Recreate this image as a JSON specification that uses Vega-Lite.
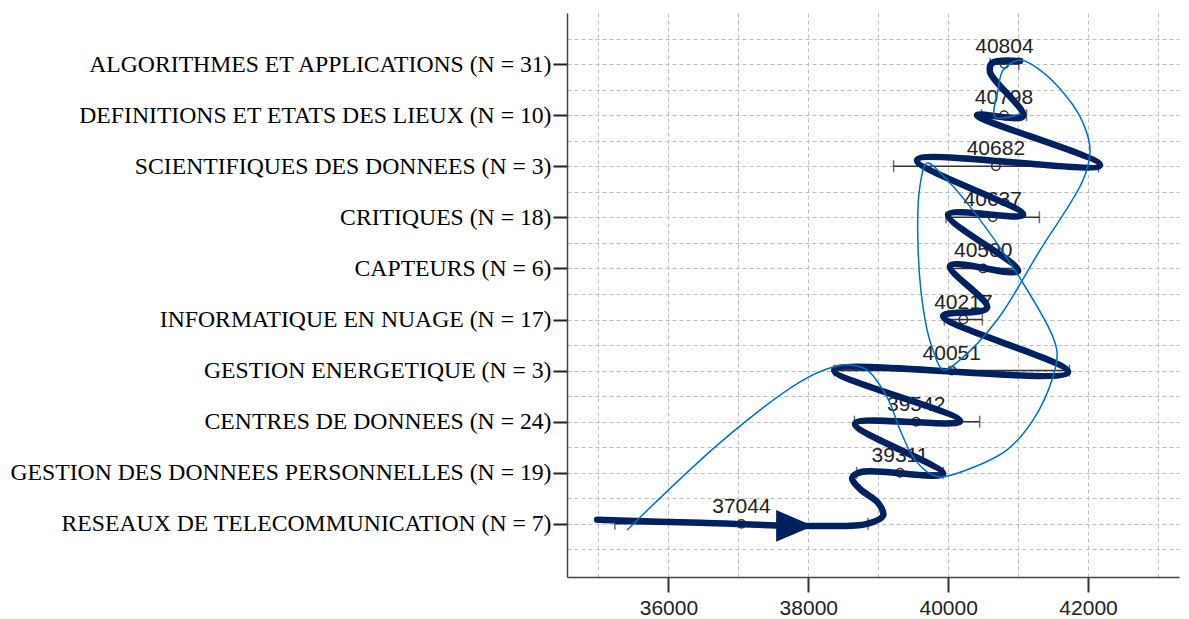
{
  "$schema": "https://vega.github.io/schema/vega-lite/v6.json",
  "width": 612,
  "height": 564,
  "autosize": {"type": "none"},
  "padding": {"left": 567, "top": 13, "right": 10, "bottom": 42},
  "background": "white",
  "config": {"view": {"stroke": null}},
  "datasets": {
    "stats": [
      {"cat": "ALGORITHMES ET APPLICATIONS (N = 31)", "pos": 1, "mean": 40804, "lo": 40599, "hi": 41009},
      {"cat": "DEFINITIONS ET ETATS DES LIEUX (N = 10)", "pos": 2, "mean": 40798, "lo": 40476, "hi": 41120},
      {"cat": "SCIENTIFIQUES DES DONNEES (N = 3)", "pos": 3, "mean": 40682, "lo": 39220, "hi": 42150},
      {"cat": "CRITIQUES (N = 18)", "pos": 4, "mean": 40637, "lo": 39970, "hi": 41304},
      {"cat": "CAPTEURS (N = 6)", "pos": 5, "mean": 40500, "lo": 40050, "hi": 40950},
      {"cat": "INFORMATIQUE EN NUAGE (N = 17)", "pos": 6, "mean": 40217, "lo": 39945, "hi": 40489},
      {"cat": "GESTION ENERGETIQUE (N = 3)", "pos": 7, "mean": 40051, "lo": 38369, "hi": 41733},
      {"cat": "CENTRES DE DONNEES (N = 24)", "pos": 8, "mean": 39542, "lo": 38660, "hi": 40450},
      {"cat": "GESTION DES DONNEES PERSONNELLES (N = 19)", "pos": 9, "mean": 39311, "lo": 38691, "hi": 39931},
      {"cat": "RESEAUX DE TELECOMMUNICATION (N = 7)", "pos": 10, "mean": 37044, "lo": 35234, "hi": 38854}
    ],
    "thick": [
      {"i": 1, "x": 34981, "pos": 9.92},
      {"i": 2, "x": 36454, "pos": 9.98},
      {"i": 3, "x": 38069, "pos": 10.04},
      {"i": 4, "x": 38841, "pos": 10.0},
      {"i": 5, "x": 39069, "pos": 9.84},
      {"i": 6, "x": 38998, "pos": 9.59},
      {"i": 7, "x": 38741, "pos": 9.32},
      {"i": 8, "x": 38626, "pos": 9.1},
      {"i": 9, "x": 38769, "pos": 8.98},
      {"i": 10, "x": 39927, "pos": 9.02},
      {"i": 11, "x": 38669, "pos": 8.04},
      {"i": 12, "x": 40170, "pos": 7.99},
      {"i": 13, "x": 38369, "pos": 6.99},
      {"i": 14, "x": 41714, "pos": 7.03},
      {"i": 15, "x": 39927, "pos": 5.93},
      {"i": 16, "x": 40556, "pos": 5.77},
      {"i": 17, "x": 40027, "pos": 4.95},
      {"i": 18, "x": 40999, "pos": 5.05},
      {"i": 19, "x": 39999, "pos": 3.95},
      {"i": 20, "x": 41071, "pos": 3.95},
      {"i": 21, "x": 39555, "pos": 2.88},
      {"i": 22, "x": 42171, "pos": 2.98},
      {"i": 23, "x": 40413, "pos": 2.0},
      {"i": 24, "x": 41071, "pos": 2.02},
      {"i": 25, "x": 40599, "pos": 1.16},
      {"i": 26, "x": 40628, "pos": 0.98},
      {"i": 27, "x": 41028, "pos": 0.94}
    ],
    "thin": [
      {"i": 1, "x": 35410, "pos": 10.12},
      {"i": 2, "x": 36782, "pos": 8.36},
      {"i": 3, "x": 37883, "pos": 7.22},
      {"i": 4, "x": 38355, "pos": 6.93},
      {"i": 5, "x": 38598, "pos": 6.89},
      {"i": 6, "x": 38841, "pos": 6.99},
      {"i": 7, "x": 39127, "pos": 7.52},
      {"i": 8, "x": 39312, "pos": 8.16},
      {"i": 9, "x": 39498, "pos": 8.69},
      {"i": 10, "x": 39698, "pos": 8.98},
      {"i": 11, "x": 39884, "pos": 9.08},
      {"i": 12, "x": 40270, "pos": 8.94},
      {"i": 13, "x": 40842, "pos": 8.55},
      {"i": 14, "x": 41213, "pos": 7.97},
      {"i": 15, "x": 41499, "pos": 7.12},
      {"i": 16, "x": 41557, "pos": 6.65},
      {"i": 17, "x": 41485, "pos": 6.3},
      {"i": 18, "x": 41071, "pos": 5.29},
      {"i": 19, "x": 40456, "pos": 4.05},
      {"i": 20, "x": 39984, "pos": 3.27},
      {"i": 21, "x": 39698, "pos": 2.94},
      {"i": 22, "x": 39598, "pos": 3.37},
      {"i": 23, "x": 39570, "pos": 4.64},
      {"i": 24, "x": 39670, "pos": 6.01},
      {"i": 25, "x": 39784, "pos": 6.6},
      {"i": 26, "x": 39927, "pos": 6.99},
      {"i": 27, "x": 40170, "pos": 6.79},
      {"i": 28, "x": 40699, "pos": 6.01},
      {"i": 29, "x": 41314, "pos": 4.64},
      {"i": 30, "x": 41928, "pos": 3.27},
      {"i": 31, "x": 42028, "pos": 2.68},
      {"i": 32, "x": 41928, "pos": 2.15},
      {"i": 33, "x": 41700, "pos": 1.65},
      {"i": 34, "x": 41314, "pos": 1.12},
      {"i": 35, "x": 41028, "pos": 0.92},
      {"i": 36, "x": 40785, "pos": 1.12},
      {"i": 37, "x": 40713, "pos": 1.51},
      {"i": 38, "x": 40670, "pos": 2.04},
      {"i": 39, "x": 41028, "pos": 1.98}
    ],
    "arrow": [
      {"x": 37804, "pos": 10.04}
    ]
  },
  "layer": [
    {
      "data": {"name": "stats"},
      "mark": {"type": "rule", "stroke": "#333333", "strokeWidth": 1.5},
      "encoding": {
        "x": {
          "field": "lo", "type": "quantitative", "title": null,
          "scale": {"domain": [34550, 43300], "nice": false, "zero": false},
          "axis": {
            "values": [35000, 36000, 37000, 38000, 39000, 40000, 41000, 42000, 43000],
            "tickCount": 40,
            "labelExpr": "datum.value % 2000 === 0 ? '' + datum.value : ''",
            "tickOpacity": {"condition": {"test": "datum.value % 2000 === 0", "value": 1}, "value": 0},
            "labelFont": "Liberation Sans",
            "labelFontSize": 21,
            "labelColor": "#222222",
            "labelPadding": 5,
            "labelFlush": false,
            "labelOverlap": false,
            "tickSize": 15,
            "tickWidth": 2,
            "tickColor": "#333333",
            "domainColor": "#444444",
            "domainWidth": 1.5,
            "grid": true,
            "gridColor": "#bdbdbd",
            "gridDash": [4, 3],
            "gridWidth": 1
          }
        },
        "x2": {"field": "hi"},
        "y": {
          "field": "pos", "type": "quantitative", "title": null,
          "scale": {"domain": [0, 11.04], "nice": false, "zero": false, "reverse": true},
          "axis": {
            "values": [0.5, 1, 1.5, 2, 2.5, 3, 3.5, 4, 4.5, 5, 5.5, 6, 6.5, 7, 7.5, 8, 8.5, 9, 9.5, 10, 10.5],
            "tickCount": 60,
            "labelExpr": "datum.value % 1 === 0 ? ['', 'ALGORITHMES ET APPLICATIONS (N = 31)', 'DEFINITIONS ET ETATS DES LIEUX (N = 10)', 'SCIENTIFIQUES DES DONNEES (N = 3)', 'CRITIQUES (N = 18)', 'CAPTEURS (N = 6)', 'INFORMATIQUE EN NUAGE (N = 17)', 'GESTION ENERGETIQUE (N = 3)', 'CENTRES DE DONNEES (N = 24)', 'GESTION DES DONNEES PERSONNELLES (N = 19)', 'RESEAUX DE TELECOMMUNICATION (N = 7)'][datum.value] : ''",
            "tickOpacity": {"condition": {"test": "datum.value % 1 === 0", "value": 1}, "value": 0},
            "labelFont": "Liberation Serif",
            "labelFontSize": 23.7,
            "labelColor": "#000000",
            "labelPadding": 2,
            "labelOverlap": false,
            "labelLimit": 700,
            "tickSize": 14,
            "tickWidth": 2,
            "tickColor": "#222222",
            "domainColor": "#444444",
            "domainWidth": 1.5,
            "grid": true,
            "gridColor": "#bdbdbd",
            "gridDash": [4, 3],
            "gridWidth": 1
          }
        }
      }
    },
    {
      "data": {"name": "stats"},
      "mark": {"type": "point", "shape": "M0,-1L0,1", "size": 144, "filled": false, "stroke": "#333333", "strokeWidth": 1.5},
      "encoding": {
        "x": {"field": "lo", "type": "quantitative", "title": null},
        "y": {"field": "pos", "type": "quantitative", "title": null}
      }
    },
    {
      "data": {"name": "stats"},
      "mark": {"type": "point", "shape": "M0,-1L0,1", "size": 144, "filled": false, "stroke": "#333333", "strokeWidth": 1.5},
      "encoding": {
        "x": {"field": "hi", "type": "quantitative", "title": null},
        "y": {"field": "pos", "type": "quantitative", "title": null}
      }
    },
    {
      "data": {"name": "stats"},
      "mark": {"type": "point", "shape": "circle", "size": 70, "filled": false, "stroke": "#333333", "strokeWidth": 1.5, "opacity": 1},
      "encoding": {
        "x": {"field": "mean", "type": "quantitative", "title": null},
        "y": {"field": "pos", "type": "quantitative", "title": null}
      }
    },
    {
      "data": {"name": "stats"},
      "mark": {"type": "text", "font": "Liberation Sans", "fontSize": 21, "color": "#222222", "dy": -11, "baseline": "alphabetic", "align": "center"},
      "encoding": {
        "x": {"field": "mean", "type": "quantitative", "title": null},
        "y": {"field": "pos", "type": "quantitative", "title": null},
        "text": {"field": "mean", "type": "quantitative", "format": "d"}
      }
    },
    {
      "data": {"name": "thick"},
      "mark": {"type": "line", "interpolate": "catmull-rom", "stroke": "#002060", "strokeWidth": 6.5, "strokeCap": "round", "strokeJoin": "round"},
      "encoding": {
        "x": {"field": "x", "type": "quantitative", "title": null},
        "y": {"field": "pos", "type": "quantitative", "title": null},
        "order": {"field": "i", "type": "quantitative"}
      }
    },
    {
      "data": {"name": "arrow"},
      "mark": {"type": "point", "shape": "M-1,-0.86L1,0L-1,0.86Z", "size": 1369, "filled": true, "color": "#002060", "opacity": 1},
      "encoding": {
        "x": {"field": "x", "type": "quantitative", "title": null},
        "y": {"field": "pos", "type": "quantitative", "title": null}
      }
    },
    {
      "data": {"name": "thin"},
      "mark": {"type": "line", "interpolate": "catmull-rom", "stroke": "#0070c0", "strokeWidth": 1.5},
      "encoding": {
        "x": {"field": "x", "type": "quantitative", "title": null},
        "y": {"field": "pos", "type": "quantitative", "title": null},
        "order": {"field": "i", "type": "quantitative"}
      }
    }
  ]
}
